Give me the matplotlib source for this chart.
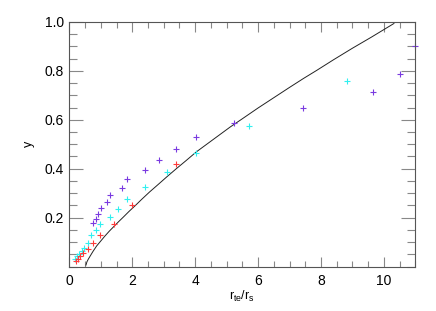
import numpy as np
import matplotlib
matplotlib.use("Agg")
import matplotlib.pyplot as plt
from matplotlib.ticker import MultipleLocator, FixedLocator

plt.rcParams['font.family'] = ['Liberation Sans', 'DejaVu Sans']
plt.rcParams['mathtext.fontset'] = 'custom'
plt.rcParams['mathtext.rm'] = 'Liberation Sans'
plt.rcParams['mathtext.it'] = 'Liberation Sans'

# purple points
x_purple = [0.763, 0.833, 0.912, 0.998, 1.182, 1.293, 1.684, 1.827, 2.390, 2.841,
            3.381, 4.036, 5.243, 7.426, 9.650, 10.524, 11.0]
y_purple = [0.177, 0.195, 0.216, 0.240, 0.264, 0.293, 0.323, 0.357, 0.393, 0.435,
            0.479, 0.531, 0.585, 0.647, 0.712, 0.785, 0.901]

# cyan points
x_cyan = [0.181, 0.245, 0.318, 0.388, 0.473, 0.578, 0.699, 0.839, 0.991, 1.284,
          1.538, 1.834, 2.390, 3.095, 4.026, 5.720, 8.834]
y_cyan = [0.030, 0.042, 0.051, 0.064, 0.078, 0.096, 0.128, 0.148, 0.173, 0.202,
          0.234, 0.275, 0.324, 0.385, 0.464, 0.576, 0.759]

# red points
x_red = [0.213, 0.261, 0.346, 0.445, 0.578, 0.763, 0.991, 1.411, 2.002, 3.381]
y_red = [0.022, 0.031, 0.042, 0.055, 0.072, 0.097, 0.128, 0.176, 0.253, 0.420]

# black curve
x_curve = [0.53, 0.56, 0.60, 0.66, 0.75, 0.87, 1.00, 1.13, 1.27, 1.40, 1.56, 1.72,
           1.90, 2.10, 2.30, 2.55, 2.80, 3.10, 3.40, 3.70, 4.04, 4.40, 4.75, 5.11,
           5.50, 6.00, 6.50, 7.00, 7.45, 7.87, 8.40, 9.00, 9.60, 10.32]
y_curve = [0.007, 0.020, 0.030, 0.043, 0.062, 0.085, 0.105, 0.125, 0.145, 0.162,
           0.183, 0.203, 0.226, 0.250, 0.275, 0.305, 0.333, 0.367, 0.400, 0.432,
           0.469, 0.503, 0.536, 0.570, 0.604, 0.648, 0.690, 0.732, 0.769, 0.802,
           0.845, 0.892, 0.937, 0.993]

fig = plt.figure(figsize=(4.36, 3.11), dpi=100)
ax = fig.add_axes([0.159, 0.1424, 0.7936, 0.7876])

ax.plot(x_curve, y_curve, color='#222222', lw=0.7)
ax.plot(x_cyan, y_cyan, '+', color='#30f0f0', ms=4, mew=0.8, clip_on=False)
ax.plot(x_red, y_red, '+', color='#ff3a3a', ms=4, mew=0.8, clip_on=False)
ax.plot(x_purple, y_purple, '+', color='#7a3ae0', ms=4, mew=0.8, clip_on=False)

ax.set_xlim(0, 11)
ax.set_ylim(0, 1)
ax.xaxis.set_major_locator(MultipleLocator(2))
ax.xaxis.set_minor_locator(MultipleLocator(0.5))
ax.yaxis.set_major_locator(FixedLocator([0.2, 0.4, 0.6, 0.8, 1.0]))
ax.yaxis.set_minor_locator(MultipleLocator(0.05))

ax.tick_params(which='both', direction='in', top=True, right=True,
               color='#888888', labelsize=10, width=0.8)
ax.tick_params(axis='x', which='major', length=7, pad=5)
ax.tick_params(axis='x', which='minor', length=4)
ax.tick_params(axis='y', which='major', length=10, pad=4)
ax.tick_params(axis='y', which='minor', length=6)
for s in ax.spines.values():
    s.set_color('#555555')
    s.set_linewidth(0.8)

ax.set_xlabel(r'$\mathregular{r_{te}/r_{s}}$', fontsize=9, labelpad=1)
ax.set_ylabel('y', fontsize=9, labelpad=7)

fig.savefig('out.png', dpi=100)
